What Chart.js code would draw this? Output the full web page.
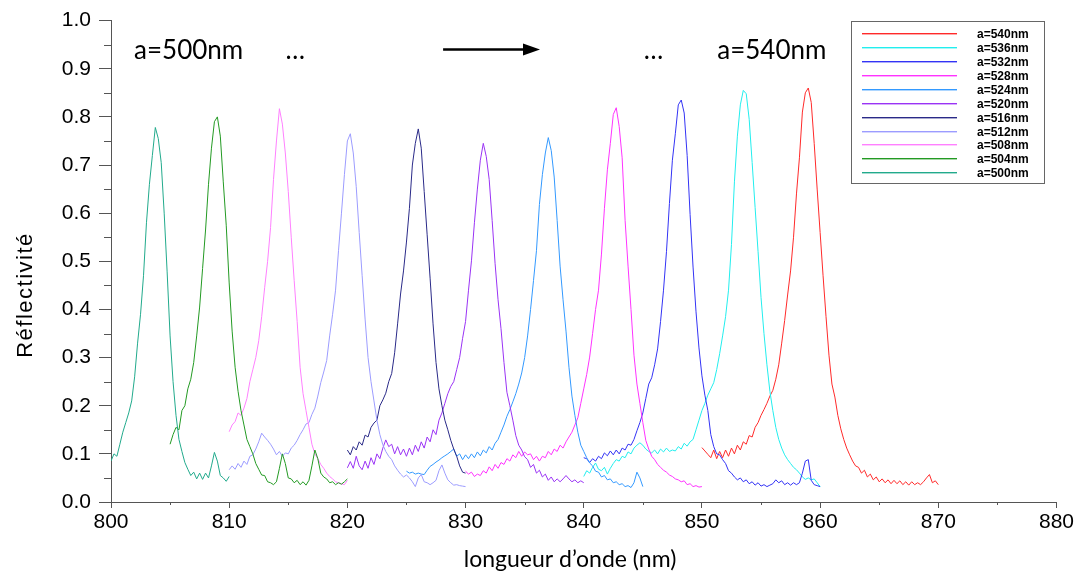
<!DOCTYPE html>
<html><head><meta charset="utf-8">
<script src="https://cdn.jsdelivr.net/npm/chart.js@4.4.1/dist/chart.umd.min.js"></script>
<style>html,body{margin:0;padding:0;background:#fff;}</style>
</head><body>
<canvas id="c" width="1076" height="574"></canvas>
<script>
// ---- data ----
const step = 0.25; // nm sampling of every spectrum
const seriesLabels = ['a=500nm','a=504nm','a=508nm','a=512nm','a=516nm','a=520nm','a=524nm','a=528nm','a=532nm','a=536nm','a=540nm'];
const seriesStarts = [800, 805, 810, 810, 820, 820, 825, 830, 840, 840, 850];
const xTickValues = [800, 810, 820, 830, 840, 850, 860, 870, 880];
const yTickValues = [0, 0.1, 0.2, 0.3, 0.4, 0.5, 0.6, 0.7, 0.8, 0.9, 1.0];

const r500 = [0.085,0.100,0.095,0.120, 0.145,0.165,0.185,0.210, 0.260,0.330,0.390,0.470, 0.580,0.660,0.720,0.778,
  0.755,0.705,0.600,0.478, 0.345,0.250,0.180,0.130, 0.105,0.082,0.068,0.055, 0.062,0.048,0.060,0.047,
  0.060,0.050,0.075,0.103, 0.085,0.055,0.050,0.043, 0.053];
const r504 = [0.120,0.140,0.155,0.150, 0.190,0.200,0.235,0.255, 0.290,0.345,0.405,0.485, 0.565,0.660,0.735,0.790,
  0.800,0.760,0.665,0.575, 0.455,0.355,0.280,0.230, 0.190,0.160,0.130,0.115, 0.100,0.080,0.068,0.056,
  0.055,0.042,0.040,0.036, 0.042,0.070,0.100,0.080, 0.050,0.048,0.040,0.045, 0.036,0.042,0.035,0.045,
  0.075,0.108,0.090,0.060, 0.052,0.048,0.040,0.042, 0.036,0.040,0.037,0.042, 0.048];
const r508 = [0.146,0.160,0.167,0.185, 0.180,0.195,0.215,0.250, 0.275,0.300,0.335,0.385, 0.445,0.500,0.570,0.670,
  0.750,0.817,0.785,0.725, 0.645,0.550,0.460,0.375, 0.280,0.225,0.190,0.155, 0.120,0.100,0.090,0.078,
  0.070,0.060,0.053,0.048, 0.042,0.040,0.038,0.036, 0.045];
const r512 = [0.067,0.075,0.068,0.080, 0.072,0.085,0.078,0.095, 0.098,0.110,0.125,0.143, 0.135,0.128,0.120,0.110,
  0.098,0.105,0.095,0.102, 0.100,0.112,0.118,0.128, 0.140,0.150,0.162,0.165, 0.182,0.195,0.220,0.248,
  0.270,0.294,0.345,0.390, 0.440,0.522,0.600,0.680, 0.750,0.765,0.725,0.655, 0.560,0.470,0.380,0.300,
  0.250,0.210,0.170,0.140, 0.119,0.105,0.095,0.088, 0.075,0.066,0.058,0.052, 0.056,0.050,0.042,0.032,
  0.050,0.057,0.042,0.040, 0.036,0.040,0.045,0.065, 0.077,0.060,0.046,0.040, 0.035,0.036,0.034,0.033, 0.032];
const r516 = [0.108,0.098,0.115,0.108, 0.125,0.118,0.139,0.135, 0.155,0.164,0.170,0.200, 0.212,0.226,0.250,0.267,
  0.310,0.370,0.432,0.480, 0.540,0.610,0.700,0.745, 0.775,0.735,0.645,0.555, 0.465,0.370,0.290,0.235,
  0.200,0.170,0.150,0.128, 0.110,0.095,0.075,0.062, 0.060];
const r520 = [0.071,0.084,0.070,0.095, 0.075,0.067,0.085,0.070, 0.092,0.078,0.100,0.090, 0.112,0.129,0.115,0.120,
  0.100,0.115,0.098,0.110, 0.095,0.112,0.098,0.118, 0.105,0.125,0.112,0.135, 0.125,0.150,0.140,0.170,
  0.185,0.205,0.225,0.240, 0.250,0.275,0.300,0.340, 0.375,0.440,0.501,0.580, 0.650,0.710,0.745,0.718,
  0.670,0.585,0.495,0.420, 0.360,0.290,0.228,0.200, 0.170,0.138,0.118,0.108, 0.094,0.088,0.072,0.078,
  0.060,0.066,0.052,0.058, 0.045,0.052,0.042,0.048, 0.042,0.048,0.055,0.048, 0.042,0.046,0.040,0.044, 0.040];
const r524 = [0.064,0.060,0.062,0.058, 0.060,0.058,0.057,0.066, 0.074,0.078,0.083,0.087, 0.092,0.096,0.100,0.105,
  0.110,0.095,0.100,0.088, 0.098,0.090,0.100,0.092, 0.104,0.096,0.108,0.102, 0.115,0.108,0.122,0.130,
  0.145,0.160,0.178,0.192, 0.208,0.225,0.245,0.268, 0.300,0.345,0.400,0.460, 0.522,0.618,0.680,0.725,
  0.757,0.730,0.675,0.585, 0.490,0.420,0.355,0.280, 0.220,0.180,0.145,0.118, 0.105,0.092,0.081,0.075,
  0.064,0.062,0.052,0.055, 0.046,0.048,0.040,0.042, 0.036,0.038,0.032,0.034, 0.030,0.040,0.062,0.050, 0.032];
const r528 = [0.064,0.058,0.062,0.053, 0.058,0.055,0.065,0.060, 0.073,0.065,0.078,0.070, 0.082,0.078,0.090,0.085,
  0.098,0.092,0.105,0.095, 0.104,0.098,0.100,0.088, 0.095,0.085,0.095,0.092, 0.105,0.098,0.110,0.105,
  0.118,0.112,0.125,0.135, 0.145,0.160,0.175,0.205, 0.235,0.265,0.301,0.350, 0.400,0.440,0.515,0.610,
  0.690,0.745,0.805,0.819, 0.780,0.715,0.585,0.490, 0.400,0.305,0.245,0.205, 0.165,0.128,0.110,0.095,
  0.088,0.078,0.072,0.066, 0.062,0.056,0.053,0.048, 0.046,0.042,0.044,0.036, 0.038,0.032,0.034,0.031, 0.032];
const r532 = [0.092,0.090,0.082,0.090, 0.085,0.095,0.090,0.102, 0.096,0.106,0.098,0.108, 0.100,0.112,0.108,0.120,
  0.118,0.130,0.148,0.165, 0.185,0.215,0.245,0.258, 0.285,0.318,0.375,0.440, 0.520,0.620,0.710,0.765,
  0.825,0.835,0.808,0.720, 0.597,0.488,0.395,0.320, 0.262,0.222,0.190,0.140, 0.115,0.100,0.098,0.088,
  0.080,0.065,0.060,0.052, 0.046,0.050,0.042,0.046, 0.038,0.042,0.035,0.040, 0.033,0.036,0.032,0.035,
  0.038,0.046,0.040,0.044, 0.036,0.040,0.035,0.040, 0.036,0.040,0.060,0.085, 0.088,0.045,0.036,0.034, 0.032];
const r536 = [0.053,0.065,0.060,0.072, 0.081,0.068,0.065,0.072, 0.058,0.070,0.080,0.088, 0.085,0.095,0.092,0.104,
  0.100,0.112,0.118,0.123, 0.118,0.110,0.105,0.102, 0.108,0.100,0.110,0.104, 0.112,0.105,0.108,0.106,
  0.115,0.110,0.122,0.116, 0.125,0.130,0.150,0.170, 0.190,0.205,0.222,0.235, 0.248,0.275,0.308,0.345,
  0.385,0.440,0.535,0.665, 0.760,0.825,0.855,0.848, 0.795,0.705,0.612,0.520, 0.425,0.350,0.285,0.230,
  0.190,0.155,0.130,0.112, 0.098,0.088,0.080,0.072, 0.067,0.060,0.052,0.047, 0.050,0.046,0.048,0.040, 0.032];
const r540 = [0.113,0.106,0.099,0.092, 0.108,0.090,0.105,0.092, 0.108,0.095,0.112,0.100, 0.118,0.108,0.125,0.120,
  0.138,0.135,0.155,0.165, 0.180,0.192,0.205,0.220, 0.232,0.255,0.285,0.330, 0.377,0.430,0.480,0.550,
  0.640,0.715,0.810,0.850, 0.860,0.830,0.745,0.650, 0.560,0.470,0.385,0.305, 0.245,0.218,0.180,0.152,
  0.130,0.112,0.098,0.085, 0.075,0.072,0.060,0.066, 0.052,0.058,0.046,0.052, 0.042,0.048,0.040,0.046,
  0.038,0.045,0.038,0.044, 0.036,0.042,0.035,0.042, 0.036,0.040,0.036,0.042, 0.050,0.057,0.040,0.044, 0.036];

const seriesValues = [r500, r504, r508, r512, r516, r520, r524, r528, r532, r536, r540];

// ---- styles ----
const seriesColors = ['#22aa8c','#239a23','#ff80ff','#9c9cff','#2a2a88','#9a33f5','#3399ff','#ff33ff','#3333f5','#22eeee','#ff2a2a'];
const tickFont = {family: 'Liberation Sans', size: 21};
const axisColor = '#555';

const datasets = seriesValues.map((vals, i) => ({
  label: seriesLabels[i],
  data: vals.map((v, j) => ({x: seriesStarts[i] + j * step, y: v})),
  borderColor: seriesColors[i],
  backgroundColor: seriesColors[i],
  borderWidth: 1,
  pointRadius: 0,
  tension: 0,
  fill: false
}));

const decor = {
  id: 'decor',
  afterDraw(chart) {
    const ctx = chart.ctx, xs = chart.scales.x, ys = chart.scales.y, ca = chart.chartArea;
    ctx.save();
    // minor ticks
    ctx.strokeStyle = axisColor; ctx.lineWidth = 1;
    ctx.beginPath();
    for (let i = 0; i < xTickValues.length - 1; i++) {
      const px = Math.round(xs.getPixelForValue((xTickValues[i] + xTickValues[i+1]) / 2)) + 0.5;
      ctx.moveTo(px, ca.bottom); ctx.lineTo(px, ca.bottom + 3);
    }
    for (let i = 0; i < yTickValues.length - 1; i++) {
      const py = Math.round(ys.getPixelForValue((yTickValues[i] + yTickValues[i+1]) / 2)) + 0.5;
      ctx.moveTo(ca.left - 7, py); ctx.lineTo(ca.left, py);
    }
    ctx.stroke();

    // legend box (newest series on top)
    ctx.lineWidth = 1; ctx.strokeStyle = '#666';
    ctx.strokeRect(851.5, 21.5, 193, 162);
    ctx.font = 'bold 12px "Liberation Sans"';
    ctx.textAlign = 'left'; ctx.textBaseline = 'middle';
    const n = seriesLabels.length;
    for (let k = 0; k < n; k++) {
      const idx = n - 1 - k;
      const y = Math.round(33 + k * 13.93);
      ctx.fillStyle = seriesColors[idx];
      ctx.fillRect(862, y, 95, 1.4);
      ctx.fillStyle = '#000';
      ctx.fillText(seriesLabels[idx], 977, y + 1.5);
    }

    // axis titles
    ctx.fillStyle = '#000';
    ctx.font = '23px Lato';
    ctx.textAlign = 'center'; ctx.textBaseline = 'alphabetic';
    ctx.fillText('longueur d\u2019onde (nm)', 570, 567);
    ctx.save();
    ctx.translate(32, 295); ctx.rotate(-Math.PI / 2);
    ctx.font = '22px "Liberation Sans"';
    try { ctx.letterSpacing = '1.5px'; } catch (e) {}
    ctx.fillText('R\u00e9flectivit\u00e9', 0, 0);
    ctx.restore();

    // annotations (data coordinates)
    ctx.fillStyle = '#000';
    ctx.font = '26px Lato';
    ctx.textAlign = 'left';
    const yb = ys.getPixelForValue(0.92);
    ctx.fillText(seriesLabels[0], xs.getPixelForValue(801.95), yb);
    ctx.fillText(seriesLabels[10], xs.getPixelForValue(851.3), yb);
    ctx.textAlign = 'center';
    ctx.fillText('\u2026', xs.getPixelForValue(815.6), yb);
    ctx.fillText('\u2026', xs.getPixelForValue(845.9), yb);
    // arrow
    const ay = Math.round(ys.getPixelForValue(0.94)) + 0.5;
    const ax0 = xs.getPixelForValue(828.1), ax1 = xs.getPixelForValue(836.3);
    ctx.strokeStyle = '#000'; ctx.lineWidth = 2.5;
    ctx.beginPath(); ctx.moveTo(ax0, ay); ctx.lineTo(ax1 - 12, ay); ctx.stroke();
    ctx.beginPath(); ctx.moveTo(ax1, ay); ctx.lineTo(ax1 - 17, ay - 6); ctx.lineTo(ax1 - 17, ay + 6); ctx.closePath();
    ctx.fill();
    ctx.restore();
  }
};

new Chart(document.getElementById('c'), {
  type: 'line',
  data: {datasets},
  options: {
    responsive: false,
    animation: false,
    devicePixelRatio: 1,
    layout: {padding: {left: 0, right: 19, top: 18, bottom: 0}},
    plugins: {legend: {display: false}, tooltip: {enabled: false}},
    scales: {
      x: {
        type: 'linear', min: 800, max: 880,
        afterFit(s) { s.height = 72; },
        afterBuildTicks(s) { s.ticks = xTickValues.map(v => ({value: v})); },
        ticks: {color: '#000', font: tickFont, padding: 2, maxRotation: 0, autoSkip: false, callback: v => String(v)},
        grid: {drawOnChartArea: false, drawTicks: true, tickLength: 6, tickColor: axisColor, color: axisColor},
        border: {display: true, color: axisColor, width: 1}
      },
      y: {
        type: 'linear', min: 0, max: 1,
        afterFit(s) { s.width = 111; },
        afterBuildTicks(s) { s.ticks = yTickValues.map(v => ({value: v})); },
        ticks: {color: '#000', font: tickFont, padding: 8, autoSkip: false, callback: v => Number(v).toFixed(1)},
        grid: {drawOnChartArea: false, drawTicks: true, tickLength: 12, tickColor: axisColor, color: axisColor},
        border: {display: true, color: axisColor, width: 1}
      }
    }
  },
  plugins: [decor]
});
</script>
</body></html>
